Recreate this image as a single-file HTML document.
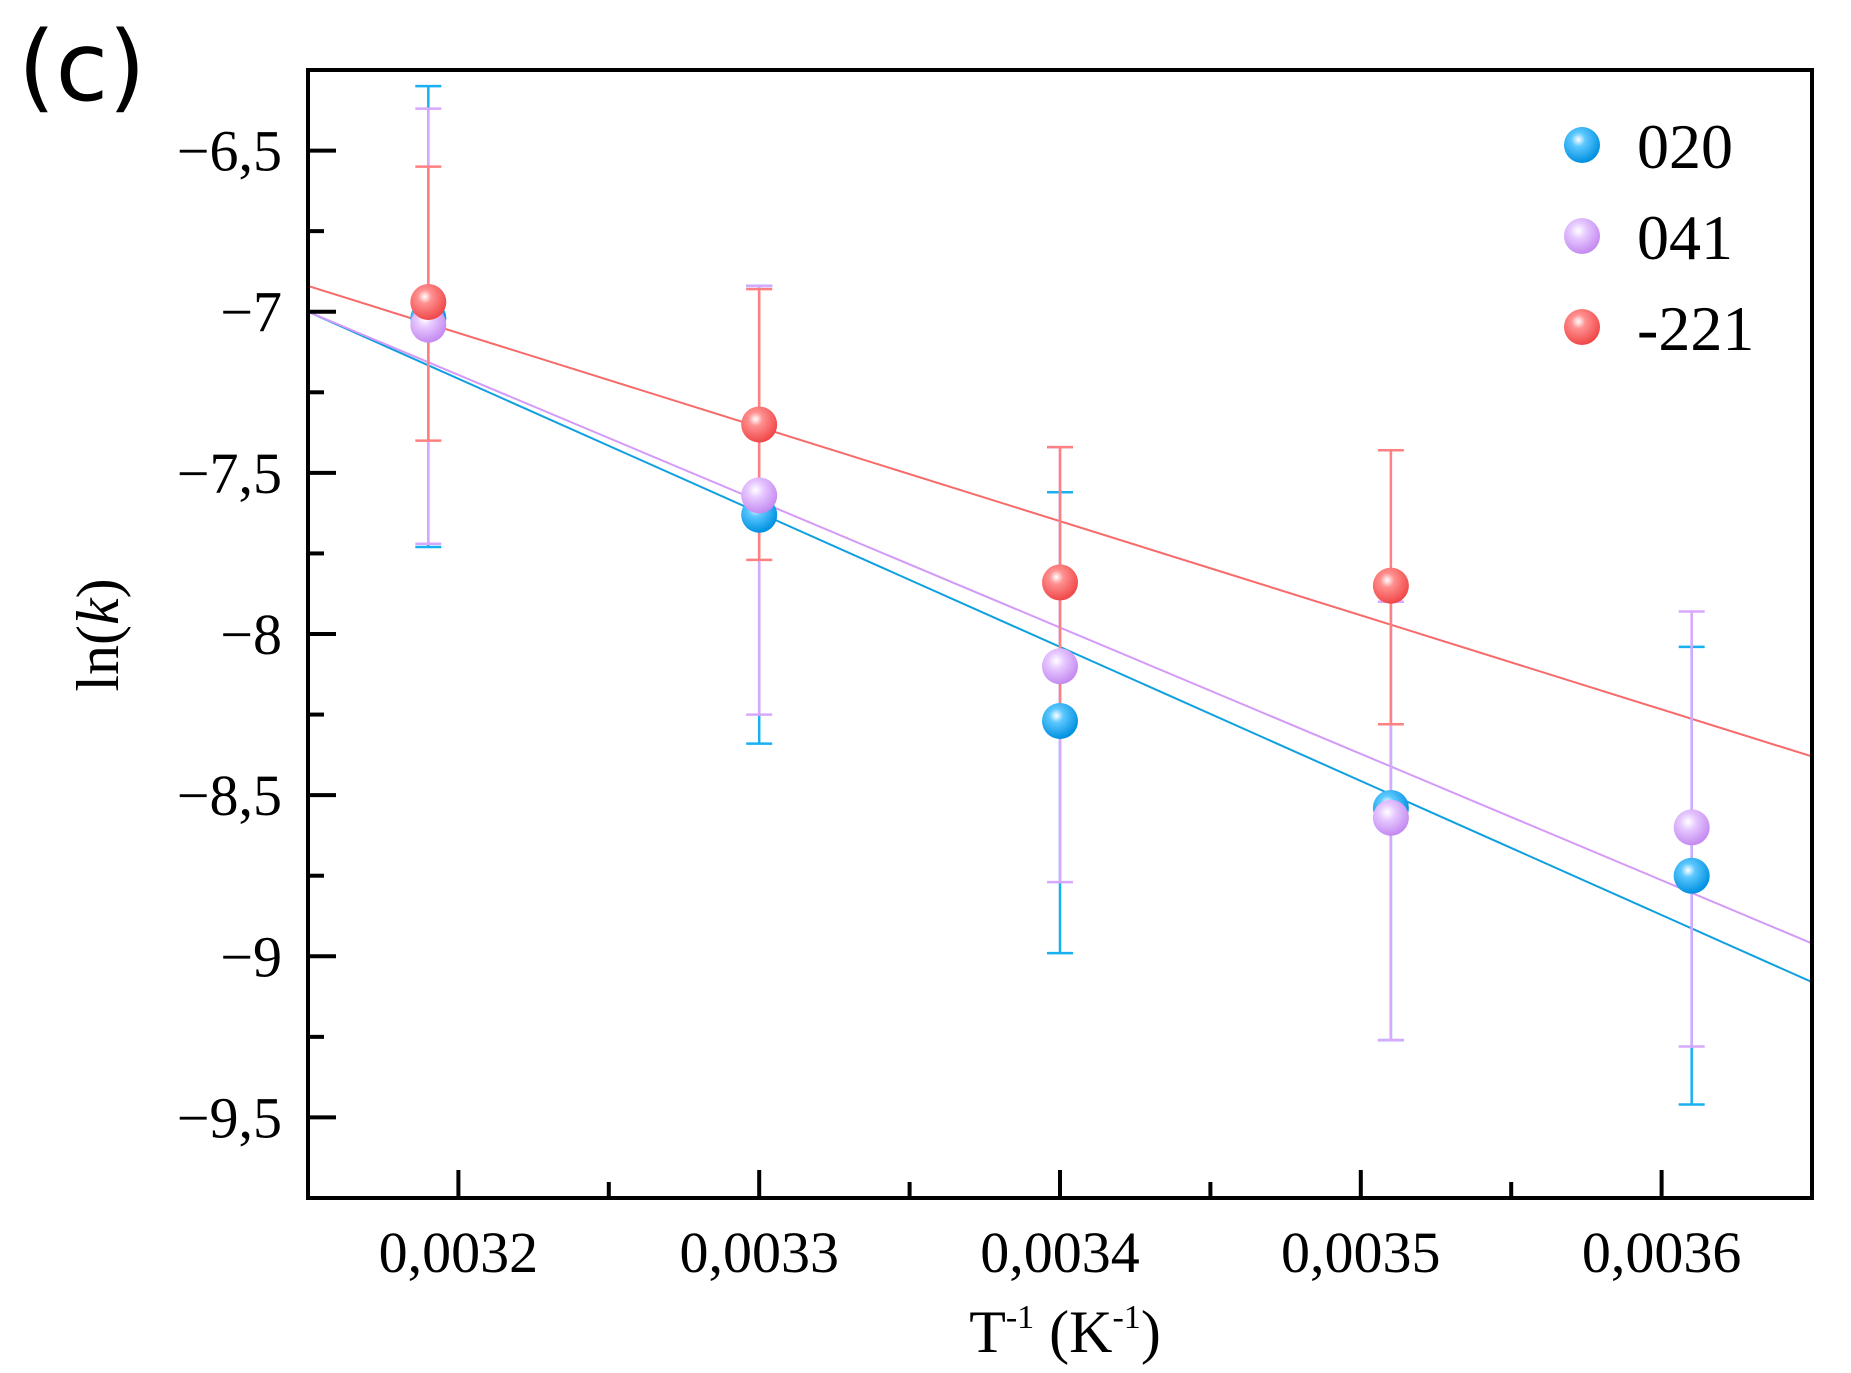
<!DOCTYPE html>
<html><head><meta charset="utf-8"><style>
html,body{margin:0;padding:0;background:#fff;}
svg{display:block;}
text{font-family:"Liberation Serif",serif;fill:#000;}
</style></head><body>
<svg id="chart" width="1851" height="1373" viewBox="0 0 1851 1373" xmlns="http://www.w3.org/2000/svg">
<defs>
<radialGradient id="gBlue" cx="0.4" cy="0.35" r="0.65"><stop offset="0" stop-color="#fff"/><stop offset="0.3" stop-color="#5cc8ff"/><stop offset="1" stop-color="#0090e0"/></radialGradient>
<radialGradient id="gPurple" cx="0.4" cy="0.35" r="0.65"><stop offset="0" stop-color="#fff"/><stop offset="0.35" stop-color="#e6c8ff"/><stop offset="1" stop-color="#c48af0"/></radialGradient>
<radialGradient id="gRed" cx="0.4" cy="0.35" r="0.65"><stop offset="0" stop-color="#fff"/><stop offset="0.3" stop-color="#ff9090"/><stop offset="1" stop-color="#f04848"/></radialGradient>
</defs>
<text x="18" y="100" font-size="96" style="font-family:'DejaVu Sans',sans-serif">(c)</text>
<g id="plot"></g>
<text x="1065" y="1352" font-size="60" text-anchor="middle">T<tspan font-size="34" dy="-24">-1</tspan><tspan dy="24"> (K</tspan><tspan font-size="34" dy="-24">-1</tspan><tspan dy="24">)</tspan></text>
<text transform="translate(118,635) rotate(-90)" font-size="60" text-anchor="middle">ln(<tspan font-style="italic">k</tspan>)</text>
</svg>
<script>
const xVals = [0.00319, 0.0033, 0.0034, 0.00351, 0.00361];
const s020 = [-7.02, -7.63, -8.27, -8.54, -8.75];
const s020Hi = [-6.30, -6.92, -7.56, -7.82, -8.04];
const s020Lo = [-7.73, -8.34, -8.99, -9.26, -9.46];
const s041 = [-7.04, -7.57, -8.10, -8.57, -8.60];
const s041Hi = [-6.37, -6.92, -7.42, -7.90, -7.93];
const s041Lo = [-7.72, -8.25, -8.77, -9.26, -9.28];
const s221 = [-6.97, -7.35, -7.84, -7.85];
const s221Hi = [-6.55, -6.93, -7.42, -7.43];
const s221Lo = [-7.40, -7.77, -8.27, -8.28];
const fitX = [0.00315, 0.00365];
const fit020 = [-7.00, -9.08];
const fit041 = [-7.00, -8.96];
const fit221 = [-6.92, -8.38];
const xTicks = [0.0032, 0.0033, 0.0034, 0.0035, 0.0036];
const xTickLabels = ["0,0032", "0,0033", "0,0034", "0,0035", "0,0036"];
const yTicks = [-6.5, -7, -7.5, -8, -8.5, -9, -9.5];
const yTickLabels = ["\u22126,5", "\u22127", "\u22127,5", "\u22128", "\u22128,5", "\u22129", "\u22129,5"];
const legendLabels = ["020", "041", "-221"];

const L=308, R=1812, T=70, B=1198;
const xMin=0.00315, xMax=0.00365, yMin=-9.75, yMax=-6.25;
const X = v => L + (v - xMin) / (xMax - xMin) * (R - L);
const Y = v => T + (yMax - v) / (yMax - yMin) * (B - T);
const NS="http://www.w3.org/2000/svg";
const g=document.getElementById('plot');
function mk(tag, attrs, parent){const e=document.createElementNS(NS,tag);for(const k in attrs)e.setAttribute(k,attrs[k]);(parent||g).appendChild(e);return e;}

const fits=[[fit020,'#10a0e0'],[fit041,'#d49af8'],[fit221,'#f86a6a']];
const fitNames=['fit-line-020','fit-line-041','fit-line-221'];
fits.forEach((f,i)=>{
  const e=mk('line',{x1:X(fitX[0]),y1:Y(f[0][0]),x2:X(fitX[1]),y2:Y(f[0][1]),stroke:f[1],'stroke-width':2});
  
  
});

const series=[
 {v:s020,hi:s020Hi,lo:s020Lo,c:'#18b0f0',g:'url(#gBlue)',n:'020'},
 {v:s041,hi:s041Hi,lo:s041Lo,c:'#d8a8ff',g:'url(#gPurple)',n:'041'},
 {v:s221,hi:s221Hi,lo:s221Lo,c:'#ff8080',g:'url(#gRed)',n:'221'}
];
series.forEach(s=>{
  s.v.forEach((v,i)=>{
    const x=X(xVals[i]);
    const eb=mk('g',{stroke:s.c,'stroke-width':2.5,fill:'none'});
    
    
    mk('line',{x1:x,y1:Y(s.hi[i]),x2:x,y2:Y(s.lo[i])},eb);
    mk('line',{x1:x-13,y1:Y(s.hi[i]),x2:x+13,y2:Y(s.hi[i])},eb);
    mk('line',{x1:x-13,y1:Y(s.lo[i]),x2:x+13,y2:Y(s.lo[i])},eb);
  });
});
series.forEach(s=>{
  s.v.forEach((v,i)=>{
    const c=mk('circle',{cx:X(xVals[i]),cy:Y(v),r:18,fill:s.g});
    
    
  });
});

const fr=mk('rect',{x:L,y:T,width:R-L,height:B-T,fill:'none',stroke:'#000','stroke-width':4});



xTicks.forEach((t,i)=>{
  const x=X(t);
  const tk=mk('line',{x1:x,y1:B,x2:x,y2:B-28,stroke:'#000','stroke-width':4});
  
  
  const tx=mk('text',{x:x,y:1272,'font-size':58,'text-anchor':'middle'});
  tx.textContent=xTickLabels[i];
  
  
  if(i<xTicks.length-1){
    const xm=X(t+0.00005);
    const m=mk('line',{x1:xm,y1:B,x2:xm,y2:B-16,stroke:'#000','stroke-width':4});
    
    
  }
});
yTicks.forEach((t,i)=>{
  const y=Y(t);
  const tk=mk('line',{x1:L,y1:y,x2:L+28,y2:y,stroke:'#000','stroke-width':4});
  
  
  const tx=mk('text',{x:282,y:y+20,'font-size':58,'text-anchor':'end'});
  tx.textContent=yTickLabels[i];
  
  
  if(i<yTicks.length-1){
    const ym=Y(t-0.25);
    const m=mk('line',{x1:L,y1:ym,x2:L+16,y2:ym,stroke:'#000','stroke-width':4});
    
    
  }
});

const legFills=['url(#gBlue)','url(#gPurple)','url(#gRed)'];
legendLabels.forEach((lab,i)=>{
  const y=145+i*91;
  const lg=mk('g',{});
  
  
  mk('circle',{cx:1582,cy:y,r:18,fill:legFills[i]},lg);
  const t=mk('text',{x:1637,y:y+23,'font-size':64},lg);
  t.textContent=lab;
});
</script>
</body></html>
